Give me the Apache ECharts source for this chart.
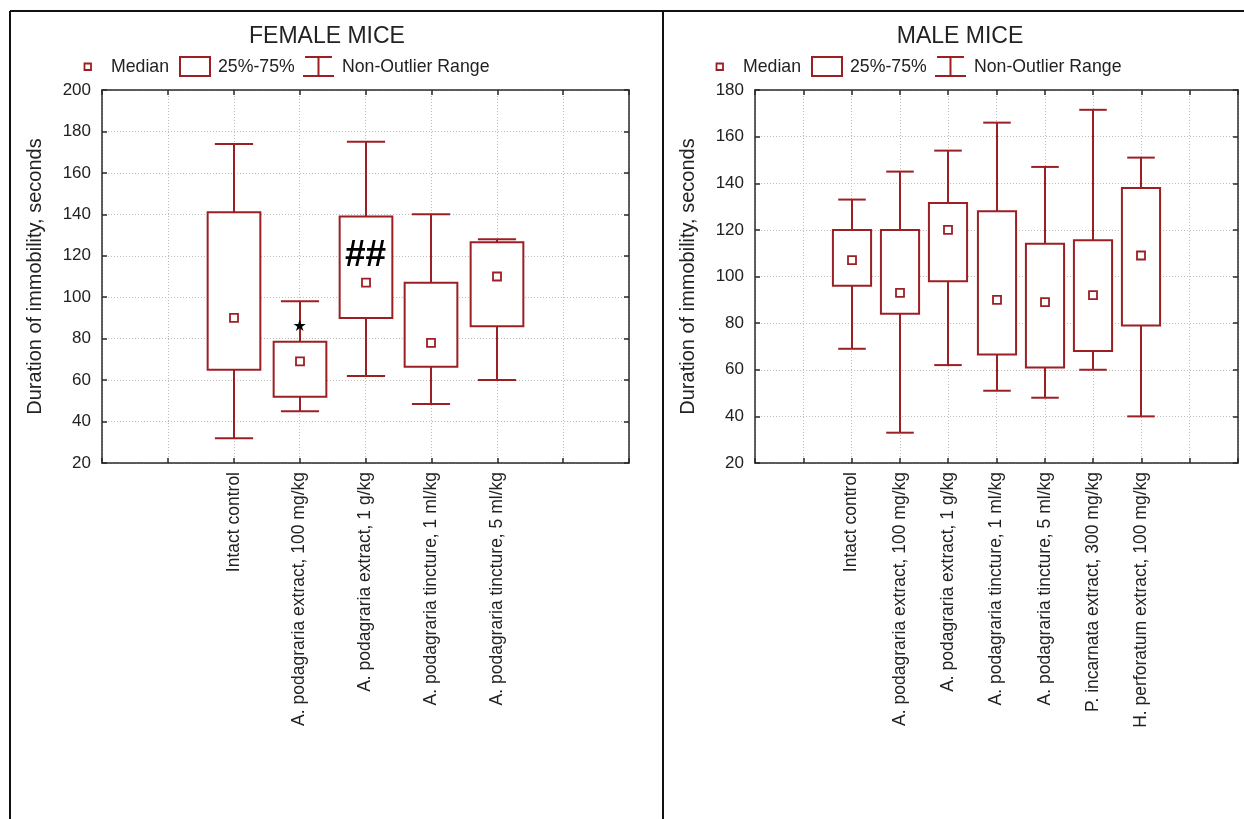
<!DOCTYPE html>
<html>
<head>
<meta charset="utf-8">
<script src="https://cdn.jsdelivr.net/npm/echarts@6/dist/echarts.min.js"></script>
<style>
html,body{margin:0;padding:0;background:#fff;}
#chart{width:1244px;height:819px;}
</style>
</head>
<body>
<div id="chart"></div>
<script>
// ---------- DATA ----------
const femaleGroups = [
  'Intact control',
  'A. podagraria extract, 100 mg/kg',
  'A. podagraria extract, 1 g/kg',
  'A. podagraria tincture, 1 ml/kg',
  'A. podagraria tincture, 5 ml/kg'
];
const femaleMin    = [32, 45, 62, 48.5, 60];
const femaleQ1     = [65, 52, 90, 66.5, 86];
const femaleMedian = [90, 69, 107, 78, 110];
const femaleQ3     = [141, 78.5, 139, 107, 126.5];
const femaleMax    = [174, 98, 175, 140, 128];

const femaleMarkTexts  = ['★', '##'];
const femaleMarkGroups = [1, 2];
const femaleMarkValues = [85.5, 120];

const maleGroups = [
  'Intact control',
  'A. podagraria extract, 100 mg/kg',
  'A. podagraria extract, 1 g/kg',
  'A. podagraria tincture, 1 ml/kg',
  'A. podagraria tincture, 5 ml/kg',
  'P. incarnata extract, 300 mg/kg',
  'H. perforatum extract, 100 mg/kg'
];
const maleMin    = [69, 33, 62, 51, 48, 60, 40];
const maleQ1     = [96, 84, 98, 66.5, 61, 68, 79];
const maleMedian = [107, 93, 120, 90, 89, 92, 109];
const maleQ3     = [120, 120, 131.5, 128, 114, 115.5, 138];
const maleMax    = [133, 145, 154, 166, 147, 171.5, 151];

const femaleYTicks = [20, 200, 20]; // min, max, step
const maleYTicks   = [20, 180, 20];

const panelTitles = ['FEMALE MICE', 'MALE MICE'];
const yAxisTitle = 'Duration of immobility, seconds';
const legendLabels = ['Median', '25%-75%', 'Non-Outlier Range'];

// ---------- STYLE ----------
const FONT = "'Liberation Sans', Arial, Helvetica, sans-serif";
const RED = '#9c1f24';
const INK = '#222';
const FRAME = '#2a2a2a';

const PAD = 2; // empty category slots on each side
function padCats(arr) {
  const out = [];
  for (let i = 0; i < PAD; i++) out.push('');
  arr.forEach(a => out.push(a));
  for (let i = 0; i < PAD; i++) out.push('');
  return out;
}
function boxData(mins, q1, med, q3, maxs) {
  return mins.map((v, i) => [i + PAD, v, q1[i], med[i], q3[i], maxs[i]]);
}
function markData(groups, values, texts) {
  return groups.map((g, i) => [g + PAD, values[i], texts[i]]);
}
const markStyles = {
  '★': { fontSize: 16, fontWeight: 'normal', fontFamily: "'DejaVu Sans', sans-serif" },
  '##': { fontSize: 37, fontWeight: 'bold', fontFamily: FONT }
};

function boxRenderer(boxRatio, capRatio) {
  return function (params, api) {
    const x = api.value(0);
    const pMin = api.coord([x, api.value(1)]);
    const pQ1 = api.coord([x, api.value(2)]);
    const pMed = api.coord([x, api.value(3)]);
    const pQ3 = api.coord([x, api.value(4)]);
    const pMax = api.coord([x, api.value(5)]);
    const step = api.coord([x + 1, api.value(3)])[0] - pMed[0];
    const cx = Math.round(pMed[0]);
    const hb = step * boxRatio / 2;
    const hc = step * capRatio / 2;
    const ls = { stroke: RED, lineWidth: 2, fill: null };
    return {
      type: 'group',
      children: [
        { type: 'line', shape: { x1: cx, y1: pMin[1], x2: cx, y2: pQ1[1] }, style: ls },
        { type: 'line', shape: { x1: cx, y1: pQ3[1], x2: cx, y2: pMax[1] }, style: ls },
        { type: 'line', shape: { x1: cx - hc, y1: pMin[1], x2: cx + hc, y2: pMin[1] }, style: ls },
        { type: 'line', shape: { x1: cx - hc, y1: pMax[1], x2: cx + hc, y2: pMax[1] }, style: ls },
        { type: 'rect', shape: { x: cx - hb, y: pQ3[1], width: 2 * hb, height: pQ1[1] - pQ3[1] },
          style: { stroke: RED, lineWidth: 2, fill: '#fff' } },
        { type: 'rect', shape: { x: cx - 4, y: pMed[1] - 4, width: 8, height: 8 },
          style: { stroke: RED, lineWidth: 1.8, fill: '#fff' } }
      ]
    };
  };
}
function markRenderer(params, api) {
  const p = api.coord([api.value(0), api.value(1)]);
  const t = api.value(2);
  const s = markStyles[t] || { fontSize: 14, fontWeight: 'normal', fontFamily: FONT };
  return {
    type: 'text',
    x: p[0], y: p[1],
    style: {
      text: t, fill: '#000', fontSize: s.fontSize, fontWeight: s.fontWeight, fontFamily: s.fontFamily,
      align: 'center', verticalAlign: 'middle', textAlign: 'center', textVerticalAlign: 'middle'
    }
  };
}

function xAxes(cats, gridIndex) {
  return [
    {
      type: 'category', gridIndex: gridIndex, data: padCats(cats), boundaryGap: false, position: 'bottom',
      axisLine: { show: true, lineStyle: { color: FRAME, width: 1.5 } },
      axisTick: { show: true, inside: true, length: 5, interval: 0, lineStyle: { color: FRAME, width: 1.5 } },
      axisLabel: { show: true, interval: 0, rotate: 90, margin: 9, fontSize: 17.5, fontFamily: FONT, color: INK },
      splitLine: { show: true, interval: 0, lineStyle: { color: '#bdbdbd', type: [1, 2], width: 1 } }
    },
    {
      type: 'category', gridIndex: gridIndex, data: padCats(cats), boundaryGap: false, position: 'top',
      axisLine: { show: true, lineStyle: { color: FRAME, width: 1.5 } },
      axisTick: { show: true, inside: true, length: 5, interval: 0, lineStyle: { color: FRAME, width: 1.5 } },
      axisLabel: { show: false }, splitLine: { show: false }
    }
  ];
}
function yAxes(ticks, gridIndex) {
  return [
    {
      type: 'value', gridIndex: gridIndex, min: ticks[0], max: ticks[1], interval: ticks[2], position: 'left',
      name: yAxisTitle, nameLocation: 'middle', nameGap: 57,
      nameTextStyle: { fontSize: 20, fontFamily: FONT, color: INK },
      axisLine: { show: true, lineStyle: { color: FRAME, width: 1.5 } },
      axisTick: { show: true, inside: true, length: 5, lineStyle: { color: FRAME, width: 1.5 } },
      axisLabel: { show: true, margin: 11, fontSize: 17, fontFamily: FONT, color: INK },
      splitLine: { show: true, lineStyle: { color: '#bdbdbd', type: [1, 2], width: 1 } }
    },
    {
      type: 'value', gridIndex: gridIndex, min: ticks[0], max: ticks[1], interval: ticks[2], position: 'right',
      axisLine: { show: true, lineStyle: { color: FRAME, width: 1.5 } },
      axisTick: { show: true, inside: true, length: 5, lineStyle: { color: FRAME, width: 1.5 } },
      axisLabel: { show: false }, splitLine: { show: false }
    }
  ];
}

function legendGraphics(dx) {
  const y = 67;
  const ts = (text, x) => ({
    type: 'text', x: x + dx, y: y,
    style: { text: text, fill: INK, fontSize: 17.7, fontFamily: FONT,
      align: 'left', verticalAlign: 'middle', textAlign: 'left', textVerticalAlign: 'middle' }
  });
  const line = (x1, y1, x2, y2) => ({
    type: 'line', shape: { x1: x1 + dx, y1: y1, x2: x2 + dx, y2: y2 }, style: { stroke: RED, lineWidth: 2 }
  });
  return [
    { type: 'rect', shape: { x: 84.5 + dx, y: 63.5, width: 6.5, height: 6.5 }, style: { stroke: RED, lineWidth: 1.8, fill: '#fff' } },
    ts(legendLabels[0], 111),
    { type: 'rect', shape: { x: 180 + dx, y: 57, width: 30, height: 19 }, style: { stroke: RED, lineWidth: 2, fill: '#fff' } },
    ts(legendLabels[1], 218),
    line(305, 57, 332, 57), line(318.5, 57, 318.5, 76), line(303, 76, 334, 76),
    ts(legendLabels[2], 342)
  ];
}

const chart = echarts.init(document.getElementById('chart'), null, { renderer: 'canvas' });
const option = {
  backgroundColor: '#fff',
  animation: false,
  textStyle: { fontFamily: FONT },
  grid: [
    { left: 102, top: 90, width: 527, height: 373, show: false },
    { left: 755, top: 90, width: 483, height: 373, show: false }
  ],
  xAxis: xAxes(femaleGroups, 0).concat(xAxes(maleGroups, 1)),
  yAxis: yAxes(femaleYTicks, 0).concat(yAxes(maleYTicks, 1)),
  series: [
    { type: 'custom', name: 'Female', xAxisIndex: 0, yAxisIndex: 0,
      encode: { x: 0, y: [1, 2, 3, 4, 5] },
      renderItem: boxRenderer(0.8, 0.58),
      data: boxData(femaleMin, femaleQ1, femaleMedian, femaleQ3, femaleMax), z: 3 },
    { type: 'custom', name: 'Female marks', xAxisIndex: 0, yAxisIndex: 0,
      encode: { x: 0, y: 1 },
      renderItem: markRenderer,
      data: markData(femaleMarkGroups, femaleMarkValues, femaleMarkTexts), z: 5 },
    { type: 'custom', name: 'Male', xAxisIndex: 2, yAxisIndex: 2,
      encode: { x: 0, y: [1, 2, 3, 4, 5] },
      renderItem: boxRenderer(0.79, 0.57),
      data: boxData(maleMin, maleQ1, maleMedian, maleQ3, maleMax), z: 3 }
  ],
  graphic: [
    // outer frame
    { type: 'line', shape: { x1: 10, y1: 11, x2: 1244, y2: 11 }, style: { stroke: '#111', lineWidth: 2 } },
    { type: 'line', shape: { x1: 10, y1: 11, x2: 10, y2: 819 }, style: { stroke: '#111', lineWidth: 2 } },
    { type: 'line', shape: { x1: 663, y1: 11, x2: 663, y2: 819 }, style: { stroke: '#111', lineWidth: 2 } },
    // titles
    { type: 'text', x: 327, y: 37, style: { text: panelTitles[0], fill: INK, fontSize: 23, fontFamily: FONT,
      align: 'center', verticalAlign: 'middle', textAlign: 'center', textVerticalAlign: 'middle' } },
    { type: 'text', x: 960, y: 37, style: { text: panelTitles[1], fill: INK, fontSize: 23, fontFamily: FONT,
      align: 'center', verticalAlign: 'middle', textAlign: 'center', textVerticalAlign: 'middle' } }
  ].concat(legendGraphics(0)).concat(legendGraphics(632))
};
chart.setOption(option);
</script>
</body>
</html>
